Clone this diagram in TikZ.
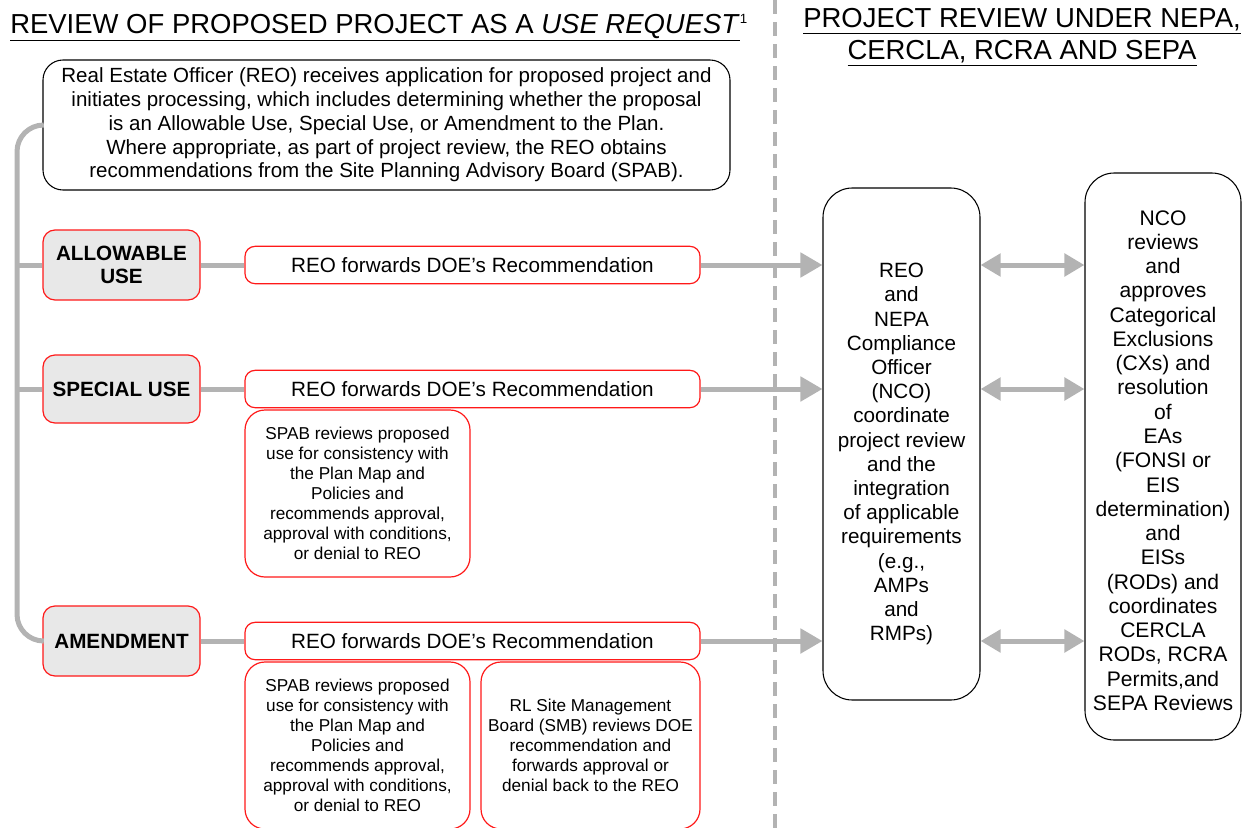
\documentclass[tikz,border=0pt]{standalone}
\usepackage{fontspec}
\setmainfont{Liberation Sans}
\usetikzlibrary{arrows.meta}
\definecolor{linegray}{RGB}{179,179,179}
\definecolor{boxgray}{RGB}{232,232,232}
\definecolor{boxred}{RGB}{255,25,25}

\begin{document}
\begin{tikzpicture}[x=0.75pt,y=0.75pt,yscale=-1,xscale=1,
  conn/.style={draw=linegray,line width=3.75pt},
  arr/.style={conn,-{Triangle[length=16.5pt,width=18pt]}},
  dblarr/.style={conn,{Triangle[length=15pt,width=16.5pt]}-{Triangle[length=15pt,width=16.5pt]}},
  usebox/.style={draw=boxred,fill=boxgray,line width=0.9pt,rounded corners=9pt,
    minimum width=117.75pt,minimum height=52.5pt,align=center,
    font=\fontsize{15.5}{17.25}\selectfont\bfseries},
  fwdbox/.style={draw=boxred,fill=white,line width=0.9pt,rounded corners=7.5pt,
    minimum width=341.25pt,minimum height=28pt,font=\fontsize{15.5}{17}\selectfont},
  spabbox/.style={draw=boxred,fill=white,line width=0.9pt,rounded corners=15pt,
    minimum height=125.25pt,align=center,font=\fontsize{12.9}{15}\selectfont},
  revbox/.style={draw,line width=0.8pt,rounded corners=22pt,align=center}
]
\useasboundingbox (0,0) rectangle (1253,828);

%Straight Lines: column separator
\draw [linegray,line width=3pt,dash pattern=on 10.5pt off 6pt] (775,0) -- (775,828) ;

% Text Node: left title
\node (titleL) [anchor=base west,inner sep=0pt,font=\fontsize{20.6}{24}\selectfont] at (10,33)
  {\underline{REVIEW OF PROPOSED PROJECT AS A \textit{USE REQUEST}}\raisebox{7pt}{\fontsize{10}{10}\selectfont 1}};
% Text Node: right title
\node (titleR) [align=center,inner sep=0pt,font=\fontsize{20.6}{24}\selectfont] at (1022,37)
  {\underline{PROJECT REVIEW UNDER NEPA,}\\\underline{CERCLA, RCRA AND SEPA}};

%Shape: REO receives application
\node (reo) [draw,line width=0.8pt,rounded corners=15pt,minimum width=515.25pt,minimum height=97.5pt,
  align=center,font=\fontsize{15.4}{17.8}\selectfont] at (386.5,125)
  {Real Estate Officer (REO) receives application for proposed project and\\
   initiates processing, which includes determining whether the proposal\\
   is an Allowable Use, Special Use, or Amendment to the Plan.\\
   Where appropriate, as part of project review, the REO obtains\\
   recommendations from the Site Planning Advisory Board (SPAB).};

%Shape: use categories
\node (allow) [usebox] at (121.5,265) {ALLOWABLE\\USE};
\node (special) [usebox,minimum height=51pt] at (121.5,389) {SPECIAL USE};
\node (amend) [usebox] at (121.5,641) {AMENDMENT};

%Shape: forwards boxes
\node (fwdA) [fwdbox] at (472.5,265) {REO forwards DOE’s Recommendation};
\node (fwdS) [fwdbox] at (472.5,389) {REO forwards DOE’s Recommendation};
\node (fwdM) [fwdbox] at (472.5,641) {REO forwards DOE’s Recommendation};

%Shape: SPAB and SMB reviews
\node (spabS) [spabbox,minimum width=168.75pt] at (357.5,493.5)
  {SPAB reviews proposed\\use for consistency with\\the Plan Map and\\Policies and\\
   recommends approval,\\approval with conditions,\\or denial to REO};
\node (spabM) [spabbox,minimum width=168.75pt] at (357.5,745.5)
  {SPAB reviews proposed\\use for consistency with\\the Plan Map and\\Policies and\\
   recommends approval,\\approval with conditions,\\or denial to REO};
\node (smb) [spabbox,minimum width=164.25pt] at (590.5,745.5)
  {RL Site Management\\Board (SMB) reviews DOE\\recommendation and\\
   forwards approval or\\denial back to the REO};

%Shape: NEPA review boxes
\node (nco) [revbox,minimum width=117.75pt,minimum height=384pt,
  font=\fontsize{15.5}{18.15}\selectfont] at (901.5,444)
  {\rule{0pt}{26pt}REO\\and\\NEPA\\Compliance\\Officer\\(NCO)\\coordinate\\project review\\and the\\
   integration\\of applicable\\requirements\\(e.g.,\\AMPs\\and\\RMPs)};
\node (ncoRev) [revbox,minimum width=117pt,minimum height=425.25pt,
  font=\fontsize{15.8}{18.2}\selectfont] at (1163,456.5)
  {\rule{0pt}{17pt}NCO\\reviews\\and\\approves\\Categorical\\Exclusions\\(CXs) and\\resolution\\of\\EAs\\
   (FONSI or\\EIS\\determination)\\and\\EISs\\(RODs) and\\coordinates\\CERCLA\\
   RODs, RCRA\\Permits,and\\SEPA Reviews};

%Straight Lines: bracket
\coordinate (spine) at (17,400);
\draw [conn,rounded corners=20pt] (reo.west) -| (spine) |- (amend.west) ;
\draw [conn] (spine |- allow.west) -- (allow.west) ;
\draw [conn] (spine |- special.west) -- (special.west) ;

%Straight Lines: to forwards boxes
\draw [conn] (allow.east) -- (fwdA.west) ;
\draw [conn] (special.east) -- (fwdS.west) ;
\draw [conn] (amend.east) -- (fwdM.west) ;

%Arrows: to NCO
\draw [arr] (fwdA.east) -- (fwdA.east -| nco.west) ;
\draw [arr] (fwdS.east) -- (fwdS.east -| nco.west) ;
\draw [arr] (fwdM.east) -- (fwdM.east -| nco.west) ;

%Arrows: NCO and review
\draw [dblarr] (fwdA.east -| nco.east) -- (fwdA.east -| ncoRev.west) ;
\draw [dblarr] (fwdS.east -| nco.east) -- (fwdS.east -| ncoRev.west) ;
\draw [dblarr] (fwdM.east -| nco.east) -- (fwdM.east -| ncoRev.west) ;
\end{tikzpicture}
\end{document}
